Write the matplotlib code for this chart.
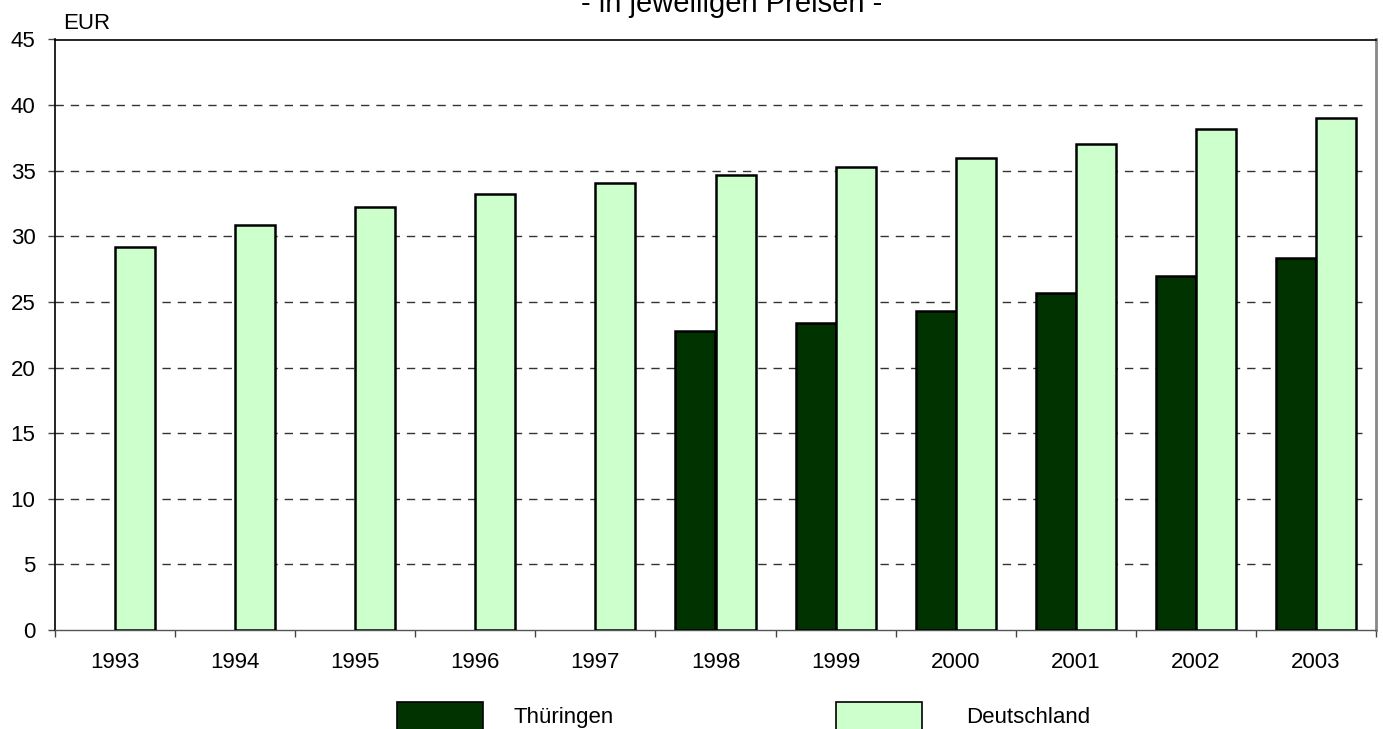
import numpy as np
import matplotlib
matplotlib.use("Agg")
import matplotlib.pyplot as plt
from matplotlib.patches import Patch

years = ["1993", "1994", "1995", "1996", "1997", "1998", "1999", "2000", "2001", "2002", "2003"]
thueringen = [np.nan, np.nan, np.nan, np.nan, np.nan, 22.8, 23.4, 24.3, 25.7, 27.0, 28.35]
deutschland = [29.2, 30.85, 32.2, 33.2, 34.1, 34.7, 35.3, 35.95, 37.05, 38.15, 39.0]
series_names = ["Thüringen", "Deutschland"]
yticks = [0, 5, 10, 15, 20, 25, 30, 35, 40, 45]

plt.rcParams['font.family'] = ['Liberation Sans', 'DejaVu Sans']

W, H = 1383, 729
fig = plt.figure(figsize=(W / 100, H / 100), dpi=100)
ax = fig.add_axes([55 / W, 1 - 630 / H, (1376 - 55) / W, (630 - 39.5) / H])

x = np.arange(len(years))
bw = 1 / 3
c_dark = "#003300"
c_light = "#CCFFCC"
ax.bar(x + 0.5 - bw / 2, thueringen, width=bw, color=c_dark, edgecolor="black", linewidth=1.8, zorder=3)
ax.bar(x + 0.5 + bw / 2, deutschland, width=bw, color=c_light, edgecolor="black", linewidth=1.8, zorder=3)

ax.set_xlim(0, len(years))
ax.set_ylim(0, 45)
ax.set_yticks(yticks)
ax.set_yticklabels([str(v) for v in yticks], fontsize=16)
ax.set_xticks(np.arange(len(years) + 1))
ax.set_xticklabels([])
ax.set_xticks(x + 0.5, minor=True)
ax.set_xticklabels(years, minor=True, fontsize=16)
ax.tick_params(axis="x", which="major", length=5, width=1, direction="out", color="#444444")
ax.tick_params(axis="x", which="minor", length=0, pad=16)
ax.tick_params(axis="y", length=5, width=1, direction="out", color="#444444", pad=9)

for v in yticks[1:-1]:
    ax.axhline(v, color="#333333", linewidth=1, linestyle=(0, (6, 5)), zorder=1, xmax=0.994)

ax.spines["top"].set_color("black")
ax.spines["top"].set_linewidth(1.2)
ax.spines["left"].set_color("black")
ax.spines["left"].set_linewidth(1.2)
ax.spines["bottom"].set_color("#555555")
ax.spines["bottom"].set_linewidth(1.0)
ax.spines["right"].set_color("#888888")
ax.spines["right"].set_linewidth(2.0)

fig.text(63 / W, 1 - 29 / H, "EUR", fontsize=16, ha="left", va="baseline")
fig.text(732 / W, 1 - 12 / H, "- in jeweiligen Preisen -", fontsize=21, ha="center", va="baseline")

h1 = Patch(facecolor=c_dark, edgecolor="black", linewidth=1.2)
h2 = Patch(facecolor=c_light, edgecolor="black", linewidth=1.2)
fig.legend([h1], [series_names[0]], loc="center left", bbox_to_anchor=(397 / W, 1 - 716 / H),
           frameon=False, fontsize=16, handlelength=3.87, handleheight=1.5,
           handletextpad=1.35, borderaxespad=0, borderpad=0)
fig.legend([h2], [series_names[1]], loc="center left", bbox_to_anchor=(836 / W, 1 - 716 / H),
           frameon=False, fontsize=16, handlelength=3.87, handleheight=1.5,
           handletextpad=2.0, borderaxespad=0, borderpad=0)

fig.savefig("out.png", dpi=100)
